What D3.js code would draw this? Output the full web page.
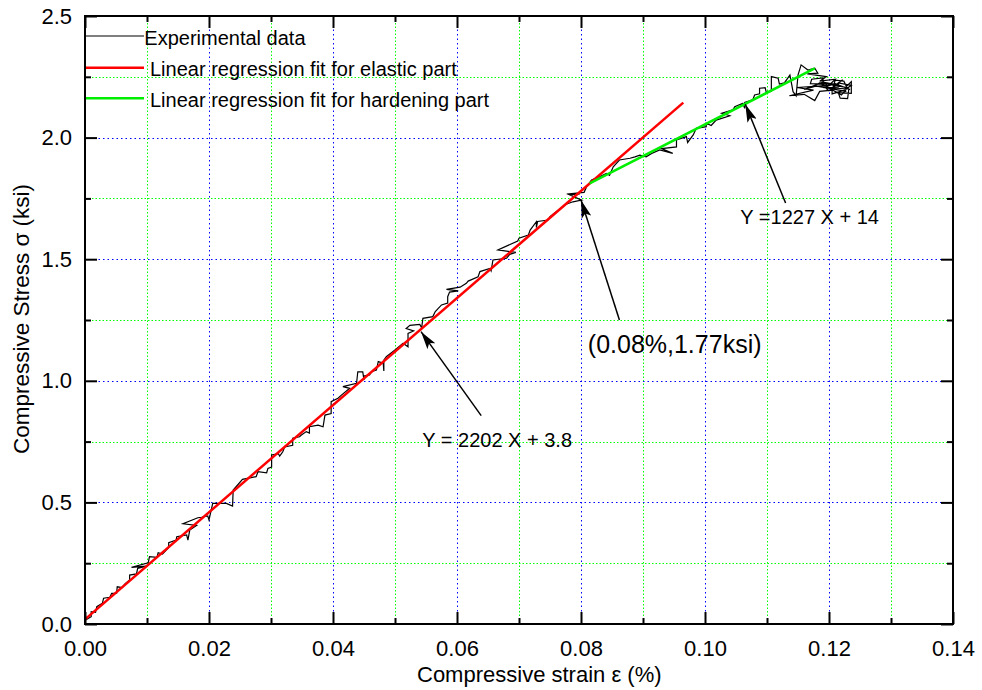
<!DOCTYPE html>
<html>
<head>
<meta charset="utf-8">
<script src="https://cdn.jsdelivr.net/npm/d3@7"></script>
<style>
  html, body { margin: 0; padding: 0; background: #fff; }
  svg { display: block; font-family: "Liberation Sans", Arial, sans-serif; }
</style>
</head>
<body>
<svg id="chart" width="982" height="690"></svg>
<script>
// ---- data (strain in %, stress in ksi) ----
const xTicks = [0.00, 0.02, 0.04, 0.06, 0.08, 0.10, 0.12, 0.14];
const xMinorTicks = [0.01, 0.03, 0.05, 0.07, 0.09, 0.11, 0.13];
const yTicks = [0.0, 0.5, 1.0, 1.5, 2.0, 2.5];
const yMinorTicks = [0.25, 0.75, 1.25, 1.75, 2.25];

// measured stress-strain record
const strainData = [
  0.0001,0.0010,0.0010,0.0017,0.0019,0.0028,0.0030,0.0040,0.0043,0.0051,0.0052,0.0060,0.0064,0.0072,0.0072,0.0083,
  0.0085,0.0099,0.0075,0.0102,0.0104,0.0116,0.0118,0.0125,0.0135,0.0135,0.0147,0.0148,0.0164,0.0166,0.0169,0.0180,
  0.0158,0.0182,0.0188,0.0198,0.0200,0.0206,0.0228,0.0238,0.0239,0.0254,0.0276,0.0279,0.0293,0.0295,0.0301,0.0301,
  0.0312,0.0314,0.0319,0.0322,0.0335,0.0335,0.0346,0.0349,0.0357,0.0362,0.0362,0.0376,0.0384,0.0387,0.0397,0.0397,
  0.0408,0.0414,0.0427,0.0416,0.0438,0.0440,0.0448,0.0450,0.0450,0.0459,0.0462,0.0470,0.0473,0.0481,0.0482,0.0482,
  0.0486,0.0500,0.0513,0.0521,0.0521,0.0530,0.0518,0.0524,0.0540,0.0543,0.0545,0.0561,0.0565,0.0575,0.0585,0.0585,
  0.0588,0.0602,0.0583,0.0605,0.0615,0.0618,0.0634,0.0637,0.0653,0.0655,0.0658,0.0680,0.0685,0.0695,0.0666,0.0698,
  0.0700,0.0715,0.0718,0.0728,0.0728,0.0730,0.0747,0.0750,0.0760,0.0771,0.0775,0.0787,0.0801,0.0782,0.0798,0.0777,
  0.0805,0.0809,0.0817,0.0830,0.0841,0.0846,0.0852,0.0862,0.0879,0.0887,0.0895,0.0905,0.0914,0.0927,0.0948,0.0930,
  0.0954,0.0954,0.0970,0.0972,0.0981,0.0986,0.1002,0.1002,0.1010,0.1018,0.1040,0.1027,0.1045,0.1048,0.1061,0.1064,
  0.1064,0.1077,0.1080,0.1088,0.1088,0.1097,0.1099,0.1107,0.1107,0.1118,0.1120,0.1128,0.1137,0.1142,0.1147,0.1150,
  0.1155,0.1166,0.1177,0.1182,0.1165,0.1196,0.1185,0.1210,0.1200,0.1148,0.1175,0.1136,0.1160,0.1177,0.1185,0.1205,
  0.1210,0.1224,0.1228,0.1236,0.1236,0.1215,0.1218,0.1230,0.1232,0.1198,0.1195,0.1170,0.1172,0.1190,0.1192,0.1215,
  0.1215,0.1236,0.1225,0.1205,0.1205,0.1228,0.1180,0.1160,0.1190,0.1212,0.1222,0.1200,0.1186,0.1230,0.1220,0.1196,
  0.1210,0.1234
];
const stressData = [
  0.016,0.030,0.051,0.048,0.071,0.085,0.106,0.110,0.126,0.127,0.153,0.150,0.164,0.181,0.201,0.206,
  0.229,0.238,0.233,0.252,0.277,0.274,0.293,0.288,0.315,0.334,0.345,0.359,0.366,0.345,0.387,0.405,
  0.412,0.437,0.439,0.444,0.428,0.496,0.496,0.485,0.551,0.595,0.606,0.626,0.622,0.640,0.645,0.695,
  0.700,0.690,0.708,0.728,0.735,0.764,0.770,0.777,0.791,0.785,0.811,0.818,0.811,0.859,0.865,0.914,
  0.928,0.942,0.969,0.976,0.990,1.037,1.037,1.003,1.020,1.024,1.037,1.044,1.079,1.072,1.040,1.085,
  1.099,1.127,1.154,1.140,1.195,1.205,1.215,1.228,1.232,1.218,1.257,1.264,1.285,1.312,1.320,1.346,
  1.365,1.370,1.376,1.385,1.401,1.410,1.428,1.449,1.462,1.452,1.497,1.504,1.520,1.528,1.538,1.575,
  1.586,1.599,1.620,1.654,1.630,1.655,1.661,1.675,1.695,1.716,1.725,1.736,1.743,1.764,1.768,1.768,
  1.775,1.798,1.826,1.839,1.853,1.845,1.880,1.908,1.915,1.921,1.928,1.921,1.935,1.949,1.935,1.955,
  1.962,1.990,2.004,1.980,2.011,2.038,2.045,2.059,2.050,2.072,2.090,2.100,2.114,2.127,2.141,2.120,
  2.145,2.155,2.175,2.180,2.203,2.205,2.185,2.190,2.251,2.244,2.220,2.225,2.257,2.189,2.172,2.257,
  2.299,2.278,2.285,2.265,2.262,2.251,2.232,2.240,2.215,2.206,2.195,2.172,2.178,2.152,2.190,2.195,
  2.236,2.232,2.210,2.230,2.182,2.185,2.162,2.160,2.200,2.205,2.220,2.222,2.240,2.245,2.205,2.208,
  2.225,2.215,2.195,2.180,2.200,2.190,2.212,2.198,2.228,2.218,2.238,2.192,2.225,2.205,2.175,2.210,
  2.222,2.198
];

// fitted lines: elastic part  Y = 2202 X + 3.8
const elasticSlope = 2202;          // ksi per unit strain
const elasticIntercept = 0.019;     // ksi
const elasticRange = [0.0, 0.0965]; // strain %
// hardening part  Y = 1227 X + 14
const hardeningStrain = [0.0814, 0.1177];
const hardeningStress = [1.812, 2.285];

// annotations
const knee = { strain: 0.08, stress: 1.77 };

// ---- layout ----
const svg = d3.select("#chart");
const margin = { left: 85, top: 16 };
const W = 868, H = 608;
const g = svg.append("g").attr("transform", `translate(${margin.left},${margin.top})`);

const x = d3.scaleLinear().domain([0, 0.14]).range([0, W]);
const y = d3.scaleLinear().domain([0, 2.5]).range([H, 0]);
const px = v => Math.round(v) + 0.5; // pixel-aligned grid lines

// ---- grid: dotted, green at the half steps, blue at the labelled steps ----
const grid = g.append("g");
function vgrid(vals, color, dash) {
  grid.selectAll(null).data(vals).enter().append("line")
    .attr("x1", d => px(x(d))).attr("x2", d => px(x(d))).attr("y1", 0).attr("y2", H)
    .attr("stroke", color).attr("stroke-width", 1).attr("stroke-dasharray", dash);
}
function hgrid(vals, color, dash) {
  grid.selectAll(null).data(vals).enter().append("line")
    .attr("y1", d => px(y(d))).attr("y2", d => px(y(d))).attr("x1", 0).attr("x2", W)
    .attr("stroke", color).attr("stroke-width", 1).attr("stroke-dasharray", dash);
}
vgrid(xMinorTicks, "#00ff00", "1.5,2");
hgrid(yMinorTicks, "#00ff00", "1.5,2");
vgrid(xTicks.slice(1, -1), "#0000ff", "1.5,3");
hgrid(yTicks.slice(1, -1), "#0000ff", "1.5,3");

// ---- series ----
const expPoints = strainData.map((s, i) => [s, stressData[i]]);
const line = d3.line().x(d => x(d[0])).y(d => y(d[1]));

g.append("path").datum(expPoints)
  .attr("d", line).attr("fill", "none").attr("stroke", "#000").attr("stroke-width", 1.2)
  .attr("stroke-linejoin", "miter");

const elasticPts = elasticRange.map(s => [s, elasticSlope * s / 100 + elasticIntercept]);
g.append("path").datum(elasticPts)
  .attr("d", line).attr("fill", "none").attr("stroke", "#ff0000").attr("stroke-width", 2.5);

const hardPts = hardeningStrain.map((s, i) => [s, hardeningStress[i]]);
g.append("path").datum(hardPts)
  .attr("d", line).attr("fill", "none").attr("stroke", "#00ee00").attr("stroke-width", 2.5);

// ---- axes ----
const fontTick = 22;
function styleAxis(sel) {
  sel.select(".domain").remove();
  sel.selectAll(".tick line").attr("stroke", "#000").attr("stroke-width", 2);
  sel.selectAll("text").attr("font-size", fontTick).attr("fill", "#000")
    .attr("font-family", "'Liberation Sans', Arial, sans-serif");
}
// major + minor, all four sides, ticks pointing inward
g.append("g").attr("transform", `translate(0,${H})`)
  .call(d3.axisBottom(x).tickValues(xTicks).tickFormat(d3.format(".2f")).tickSize(-12).tickPadding(16))
  .call(styleAxis);
g.append("g").attr("transform", `translate(0,${H})`)
  .call(d3.axisBottom(x).tickValues(xMinorTicks).tickFormat("").tickSize(-6)).call(styleAxis);
g.append("g")
  .call(d3.axisTop(x).tickValues(xTicks).tickFormat("").tickSize(-12)).call(styleAxis);
g.append("g")
  .call(d3.axisTop(x).tickValues(xMinorTicks).tickFormat("").tickSize(-6)).call(styleAxis);
g.append("g")
  .call(d3.axisLeft(y).tickValues(yTicks).tickFormat(d3.format(".1f")).tickSize(-12).tickPadding(13))
  .call(styleAxis);
g.append("g")
  .call(d3.axisLeft(y).tickValues(yMinorTicks).tickFormat("").tickSize(-6)).call(styleAxis);
g.append("g").attr("transform", `translate(${W},0)`)
  .call(d3.axisRight(y).tickValues(yTicks).tickFormat("").tickSize(-12)).call(styleAxis);
g.append("g").attr("transform", `translate(${W},0)`)
  .call(d3.axisRight(y).tickValues(yMinorTicks).tickFormat("").tickSize(-6)).call(styleAxis);

// frame
g.append("rect").attr("x", 0).attr("y", 0).attr("width", W).attr("height", H)
  .attr("fill", "none").attr("stroke", "#000").attr("stroke-width", 2);

// axis titles
svg.append("text").attr("x", 417).attr("y", 682)
  .attr("font-size", 22).attr("fill", "#000")
  .text("Compressive strain ε (%)");
svg.append("text").attr("transform", "translate(29,319) rotate(-90)")
  .attr("text-anchor", "middle").attr("font-size", 22.5).attr("fill", "#000")
  .text("Compressive Stress σ (ksi)");

// ---- legend ----
const legend = [
  { label: "Experimental data", color: "#000", width: 1, tx: 144.3, ly: 36, ty: 45 },
  { label: "Linear regression fit for elastic part", color: "#ff0000", width: 2.5, tx: 150, ly: 67.7, ty: 76 },
  { label: "Linear regression fit for hardening part", color: "#00ee00", width: 2.5, tx: 150, ly: 98.3, ty: 106.5 }
];
legend.forEach(l => {
  svg.append("line").attr("x1", 86).attr("x2", 144).attr("y1", l.ly).attr("y2", l.ly)
    .attr("stroke", l.color).attr("stroke-width", l.width);
  svg.append("text").attr("x", l.tx).attr("y", l.ty).attr("font-size", 20).attr("fill", "#000").text(l.label);
});

// ---- annotations ----
svg.append("defs").append("marker")
  .attr("id", "arrowhead").attr("viewBox", "0 0 18 10")
  .attr("refX", 18).attr("refY", 5)
  .attr("markerWidth", 18).attr("markerHeight", 10)
  .attr("markerUnits", "userSpaceOnUse").attr("orient", "auto")
  .append("path").attr("d", "M0,0 L18,5 L0,10 L4,5 Z").attr("fill", "#000");

const arrows = [
  { from: [0.0639, 0.857], to: [0.0542, 1.202] },
  { from: [0.0862, 1.250], to: [knee.strain, 1.743] },
  { from: [0.1130, 1.731], to: [0.1065, 2.137] }
];
arrows.forEach(a => {
  g.append("line")
    .attr("x1", x(a.from[0])).attr("y1", y(a.from[1]))
    .attr("x2", x(a.to[0])).attr("y2", y(a.to[1]))
    .attr("stroke", "#000").attr("stroke-width", 1.5)
    .attr("marker-end", "url(#arrowhead)");
});

const notes = [
  { text: "Y = 2202 X + 3.8", at: [0.0544, 0.729], size: 20 },
  { text: `(${knee.strain.toFixed(2)}%,${knee.stress.toFixed(2)}ksi)`, at: [0.0811, 1.116], size: 25 },
  { text: "Y =1227 X + 14", at: [0.1057, 1.644], size: 20 }
];
notes.forEach(n => {
  g.append("text").attr("x", x(n.at[0])).attr("y", y(n.at[1]))
    .attr("font-size", n.size).attr("fill", "#000").text(n.text);
});
</script>
</body>
</html>
